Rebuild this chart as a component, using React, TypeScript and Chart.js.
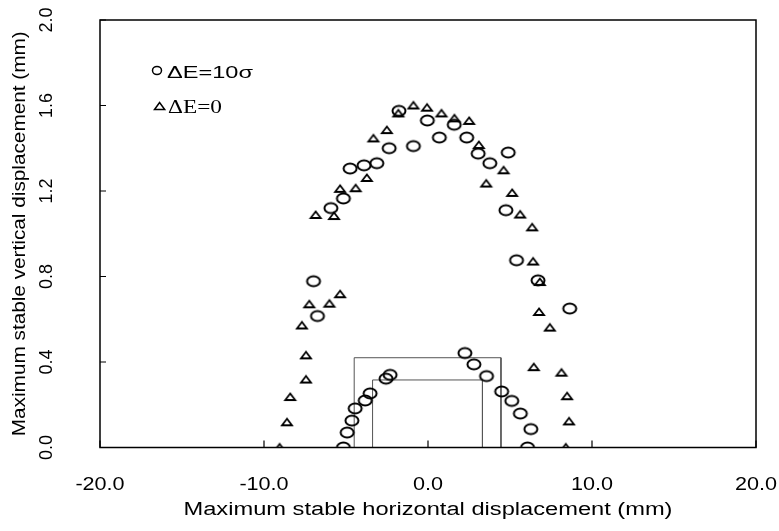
import React, { useEffect, useRef } from "react";
import { Chart, registerables } from "chart.js";

Chart.register(...registerables);

// ---- Data ----
const seriesNames = ["ΔE=10σ", "ΔE=0"];

const circleX = [
  -1.77, -0.04, 1.6, 0.69, -0.89, -2.37, 2.36, -3.12, -3.9, -4.75, 3.06, 3.77, 4.89, -5.16, -5.92, 4.75, 5.4,
  -6.98, 6.71, -6.74, 8.64,
  -5.16, -4.93, -4.64, -4.44, -3.83, -3.53, -2.56, -2.31, 2.25, 2.8, 3.57, 4.49, 5.11, 5.63, 6.27, 6.07,
];
const circleY = [
  1.575, 1.53, 1.51, 1.45, 1.41, 1.4, 1.45, 1.33, 1.32, 1.305, 1.375, 1.33, 1.38, 1.165, 1.12, 1.11, 0.876,
  0.778, 0.782, 0.615, 0.65,
  0.0, 0.07, 0.126, 0.183, 0.22, 0.253, 0.322, 0.34, 0.442, 0.389, 0.334, 0.262, 0.218, 0.159, 0.086, 0.0,
];

const triX = [
  -1.81, -0.89, -0.06, 0.82, 1.61, 2.51, -2.51, -3.33, 3.1, -3.73, -4.41, -5.36, -6.85, -5.73, 4.61, 3.55,
  5.13, 5.62, 6.35, 6.41, 6.82, 6.77, 7.43, -5.36, -6.01, -7.24, -7.69, -7.44, -7.44, -8.4, -8.6, -9.05,
  6.45, 8.14, 8.48, 8.6, 8.4,
];
const triY = [
  1.563, 1.6, 1.59, 1.563, 1.54, 1.528, 1.485, 1.446, 1.415, 1.261, 1.213, 1.21, 1.088, 1.083, 1.297, 1.235,
  1.191, 1.09, 1.03, 0.87, 0.774, 0.634, 0.561, 0.717, 0.673, 0.67, 0.571, 0.431, 0.318, 0.236, 0.118, 0.0,
  0.376, 0.35, 0.24, 0.122, 0.0,
];

const outerRectX = [-4.5, -4.5, 4.45, 4.45];
const outerRectY = [0, 0.42, 0.42, 0];
const innerRectX = [-3.38, -3.38, 3.32, 3.32];
const innerRectY = [0, 0.316, 0.316, 0];

const xTicks = [-20, -10, 0, 10, 20];
const xTickLabels = ["-20.0", "-10.0", "0.0", "10.0", "20.0"];
const yTicks = [0, 0.4, 0.8, 1.2, 1.6, 2.0];
const yTickLabels = ["0.0", "0.4", "0.8", "1.2", "1.6", "2.0"];

const xTitle = "Maximum stable horizontal displacement (mm)";
const yTitle = "Maximum stable vertical displacement (mm)";

// ---- helpers ----
const toPoints = (xs: number[], ys: number[]) => xs.map((x, i) => ({ x, y: ys[i] }));

const SANS = '"Liberation Sans", Arial, Helvetica, sans-serif';
const SERIF = '"Liberation Serif", "Times New Roman", serif';

function drawText(
  ctx: CanvasRenderingContext2D,
  text: string,
  x: number,
  y: number,
  font: string,
  opts: { align?: "left" | "center"; baseline?: CanvasTextBaseline; rotate?: number; width?: number; sx?: number }
) {
  ctx.save();
  ctx.font = font;
  ctx.textAlign = "left";
  ctx.textBaseline = opts.baseline || "alphabetic";
  const w = ctx.measureText(text).width;
  const sx = opts.width ? opts.width / w : opts.sx || 1;
  ctx.translate(x, y);
  if (opts.rotate) ctx.rotate(opts.rotate);
  ctx.scale(sx, 1);
  const off = opts.align === "center" ? -w / 2 : 0;
  ctx.fillText(text, off, 0);
  ctx.restore();
}

function makeCircle(): HTMLCanvasElement {
  const c = document.createElement("canvas");
  c.width = 18;
  c.height = 15;
  const g = c.getContext("2d")!;
  g.strokeStyle = "#000";
  g.lineWidth = 2;
  g.beginPath();
  g.ellipse(9, 7.5, 6.5, 5.0, 0, 0, Math.PI * 2);
  g.stroke();
  return c;
}

function makeTriangle(): HTMLCanvasElement {
  const c = document.createElement("canvas");
  c.width = 16;
  c.height = 12;
  const g = c.getContext("2d")!;
  g.strokeStyle = "#000";
  g.lineWidth = 1.8;
  g.lineJoin = "miter";
  g.beginPath();
  g.moveTo(8, 2.5);
  g.lineTo(3, 9);
  g.lineTo(13, 9);
  g.closePath();
  g.stroke();
  return c;
}

const decor = {
  id: "decor",
  afterDraw(chart: any) {
    const { ctx, chartArea: a } = chart;
    const xs = chart.scales.x;
    const ys = chart.scales.y;
    ctx.save();
    ctx.strokeStyle = "#000";
    ctx.lineWidth = 1.5;
    ctx.strokeRect(a.left, a.top, a.right - a.left, a.bottom - a.top);

    ctx.lineWidth = 1.2;
    ctx.beginPath();
    xTicks.forEach((v) => {
      const px = xs.getPixelForValue(v);
      ctx.moveTo(px, a.bottom);
      ctx.lineTo(px, a.bottom - 7);
    });
    yTicks.forEach((v) => {
      const py = ys.getPixelForValue(v);
      ctx.moveTo(a.left, py);
      ctx.lineTo(a.left + 6, py);
    });
    ctx.stroke();

    ctx.fillStyle = "#000";
    const f18 = `18px ${SANS}`;
    xTicks.forEach((v, i) =>
      drawText(ctx, xTickLabels[i], xs.getPixelForValue(v), 485, f18, { align: "center", baseline: "middle", sx: 1.2 })
    );
    yTicks.forEach((v, i) =>
      drawText(ctx, yTickLabels[i], 47, ys.getPixelForValue(v), f18, {
        align: "center",
        baseline: "middle",
        rotate: -Math.PI / 2,
      })
    );
    drawText(ctx, xTitle, (a.left + a.right) / 2, 515, f18, { align: "center", width: 489 });
    drawText(ctx, yTitle, 25, (a.top + a.bottom) / 2, f18, { align: "center", rotate: -Math.PI / 2, width: 405 });

    // legend
    ctx.lineWidth = 1.5;
    ctx.beginPath();
    ctx.ellipse(157, 70.5, 4.5, 4, 0, 0, Math.PI * 2);
    ctx.stroke();
    drawText(ctx, seriesNames[0], 167, 77.7, `17px ${SANS}`, { width: 86 });

    ctx.beginPath();
    ctx.moveTo(159.6, 102.5);
    ctx.lineTo(154.5, 109.5);
    ctx.lineTo(164.7, 109.5);
    ctx.closePath();
    ctx.stroke();
    drawText(ctx, seriesNames[1], 168, 113, `19px ${SERIF}`, { width: 54 });

    ctx.restore();
  },
};

export default function App() {
  const ref = useRef<HTMLCanvasElement | null>(null);

  useEffect(() => {
    if (!ref.current) return;
    const circleImg = makeCircle();
    const triImg = makeTriangle();
    const rectStyle = {
      showLine: true,
      borderColor: "#555",
      borderWidth: 1,
      pointRadius: 0,
      fill: false,
      tension: 0,
    };
    const chart = new Chart(ref.current, {
      type: "scatter",
      data: {
        datasets: [
          { label: seriesNames[0], data: toPoints(circleX, circleY), pointStyle: circleImg as any, pointRadius: 7 },
          { label: seriesNames[1], data: toPoints(triX, triY), pointStyle: triImg as any, pointRadius: 7 },
          { label: "outer", data: toPoints(outerRectX, outerRectY), ...rectStyle } as any,
          { label: "inner", data: toPoints(innerRectX, innerRectY), ...rectStyle } as any,
        ],
      },
      options: {
        animation: false,
        responsive: false,
        events: [],
        layout: { padding: { left: 100, top: 20, right: 23, bottom: 83.5 } },
        plugins: { legend: { display: false }, tooltip: { enabled: false }, title: { display: false } },
        scales: {
          x: { type: "linear", min: -20, max: 20, display: false },
          y: { type: "linear", min: 0, max: 2, display: false },
        },
      },
      plugins: [decor],
    });
    return () => chart.destroy();
  }, []);

  return (
    <div style={{ position: "absolute", left: 0, top: 0, width: 779, height: 531, background: "#fff" }}>
      <canvas ref={ref} width={779} height={531} style={{ display: "block", width: 779, height: 531 }} />
    </div>
  );
}
